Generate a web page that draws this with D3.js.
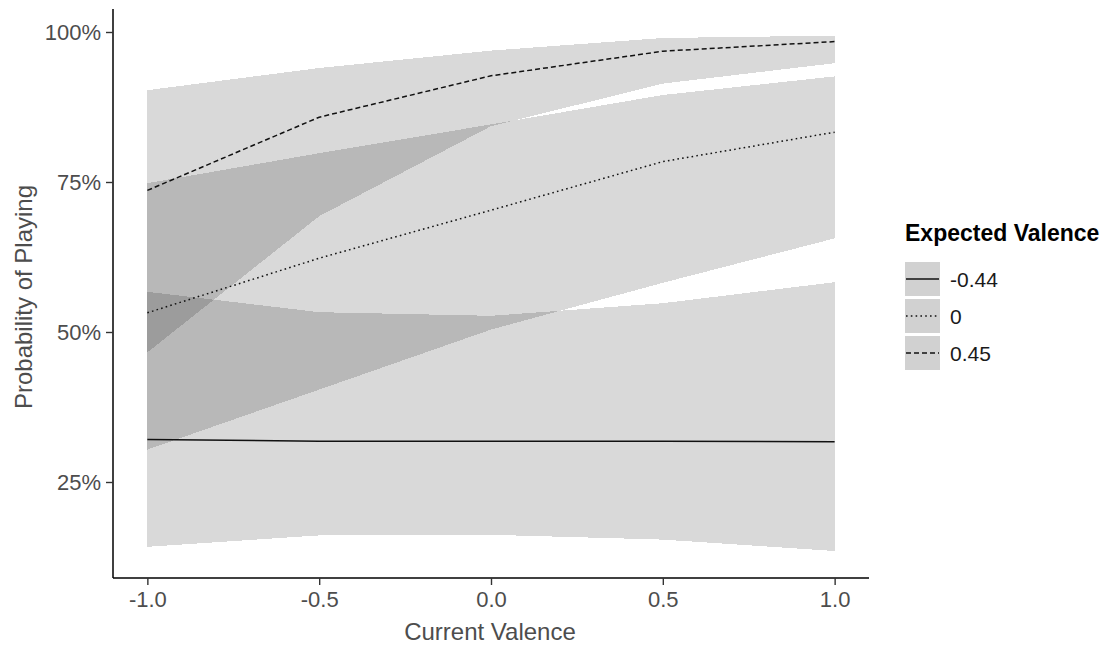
<!DOCTYPE html>
<meta charset="utf-8">
<style>
body { margin: 0; background: #fff; }
text { font-family: "Liberation Sans", Arial, sans-serif; }
.tick text { fill: #4d4d4d; font-size: 22px; }
.axis-title { fill: #4d4d4d; font-size: 24px; }
</style>
<body>
<script src="https://d3js.org/d3.v7.min.js"></script>
<script>

let width = 1117;
let height = 649;

// current valence (x)
let xs = [-1, -0.5, 0, 0.5, 1];
// expected valence levels
let groups = ["-0.44", "0", "0.45"];

// predicted probability per group
let predNeg = [0.321, 0.318, 0.318, 0.318, 0.317];
let lowNeg  = [0.142, 0.161, 0.162, 0.154, 0.135];
let highNeg = [0.567, 0.533, 0.527, 0.548, 0.583];

let predZero = [0.532, 0.623, 0.703, 0.784, 0.833];
let lowZero  = [0.304, 0.404, 0.504, 0.582, 0.656];
let highZero = [0.748, 0.798, 0.846, 0.895, 0.926];

let predPos = [0.736, 0.858, 0.927, 0.968, 0.984];
let lowPos  = [0.466, 0.693, 0.843, 0.914, 0.948];
let highPos = [0.903, 0.940, 0.969, 0.990, 0.994];

let yTicks = [0.25, 0.5, 0.75, 1.0];
let xTicks = [-1.0, -0.5, 0.0, 0.5, 1.0];

let series = [
  {name: groups[0], pred: predNeg, low: lowNeg, high: highNeg, dash: null},
  {name: groups[1], pred: predZero, low: lowZero, high: highZero, dash: "1.6,3.2"},
  {name: groups[2], pred: predPos, low: lowPos, high: highPos, dash: "5,3"}
];

let svg = d3.select("body").append("svg")
    .attr("width", width)
    .attr("height", height);

let x = d3.scaleLinear().domain([-1.1, 1.1]).range([113, 869]);
let y = d3.scaleLinear().domain([0.09, 1.04]).range([578, 8]);

let area = d3.area()
    .x((d, i) => x(xs[i]))
    .y0(d => y(d[0]))
    .y1(d => y(d[1]));

let line = d3.line()
    .x((d, i) => x(xs[i]))
    .y(d => y(d));

let g = svg.append("g");

series.forEach(s => {
  g.append("path")
    .attr("d", area(s.low.map((v, i) => [v, s.high[i]])))
    .attr("fill", "#000")
    .attr("fill-opacity", 0.15)
    .attr("shape-rendering", "crispEdges");
});

series.forEach(s => {
  g.append("path")
    .attr("d", line(s.pred))
    .attr("fill", "none")
    .attr("stroke", "#111")
    .attr("stroke-width", 1.5)
    .attr("stroke-dasharray", s.dash);
});

// axes
let xAxis = svg.append("g")
    .attr("transform", "translate(0,578)")
    .call(d3.axisBottom(x).tickValues(xTicks).tickFormat(d3.format(".1f")).tickSizeOuter(0).tickSize(7).tickPadding(6));
let yAxis = svg.append("g")
    .attr("transform", "translate(113,0)")
    .call(d3.axisLeft(y).tickValues(yTicks).tickFormat(d3.format(".0%")).tickSizeOuter(0).tickSize(7).tickPadding(5));

[xAxis, yAxis].forEach(a => {
  a.select(".domain").attr("stroke", "#000").attr("stroke-width", 1.5);
  a.selectAll(".tick line").attr("stroke", "#333").attr("stroke-width", 1.4);
  a.selectAll(".tick text").attr("font-family", null).attr("font-size", null);
});
xAxis.select(".domain").attr("d", "M113,0H869");
yAxis.select(".domain").attr("d", "M0,9V578");
xAxis.selectAll(".tick text").text(d => d3.format(".1f")(d).replace("−", "-"));

svg.append("text")
    .attr("class", "axis-title")
    .attr("x", 490).attr("y", 640)
    .attr("text-anchor", "middle")
    .text("Current Valence");

svg.append("text")
    .attr("class", "axis-title")
    .attr("transform", "translate(32,297) rotate(-90)")
    .attr("text-anchor", "middle")
    .text("Probability of Playing");

// legend
let leg = svg.append("g").attr("transform", "translate(905,0)");
leg.append("text")
    .attr("x", 0).attr("y", 241)
    .attr("font-size", 23).attr("font-weight", "bold").attr("fill", "#000")
    .text("Expected Valence");

series.forEach((s, i) => {
  let cy = 279 + i * 37;
  leg.append("rect")
    .attr("x", 0).attr("y", cy - 17)
    .attr("width", 35).attr("height", 34)
    .attr("fill", "#000").attr("fill-opacity", 0.18);
  leg.append("line")
    .attr("x1", 1).attr("x2", 34).attr("y1", cy).attr("y2", cy)
    .attr("stroke", "#111").attr("stroke-width", 1.5)
    .attr("stroke-dasharray", s.dash);
  leg.append("text")
    .attr("x", 45).attr("y", cy + 8)
    .attr("font-size", 21).attr("fill", "#1a1a1a")
    .text(s.name);
});

</script>
